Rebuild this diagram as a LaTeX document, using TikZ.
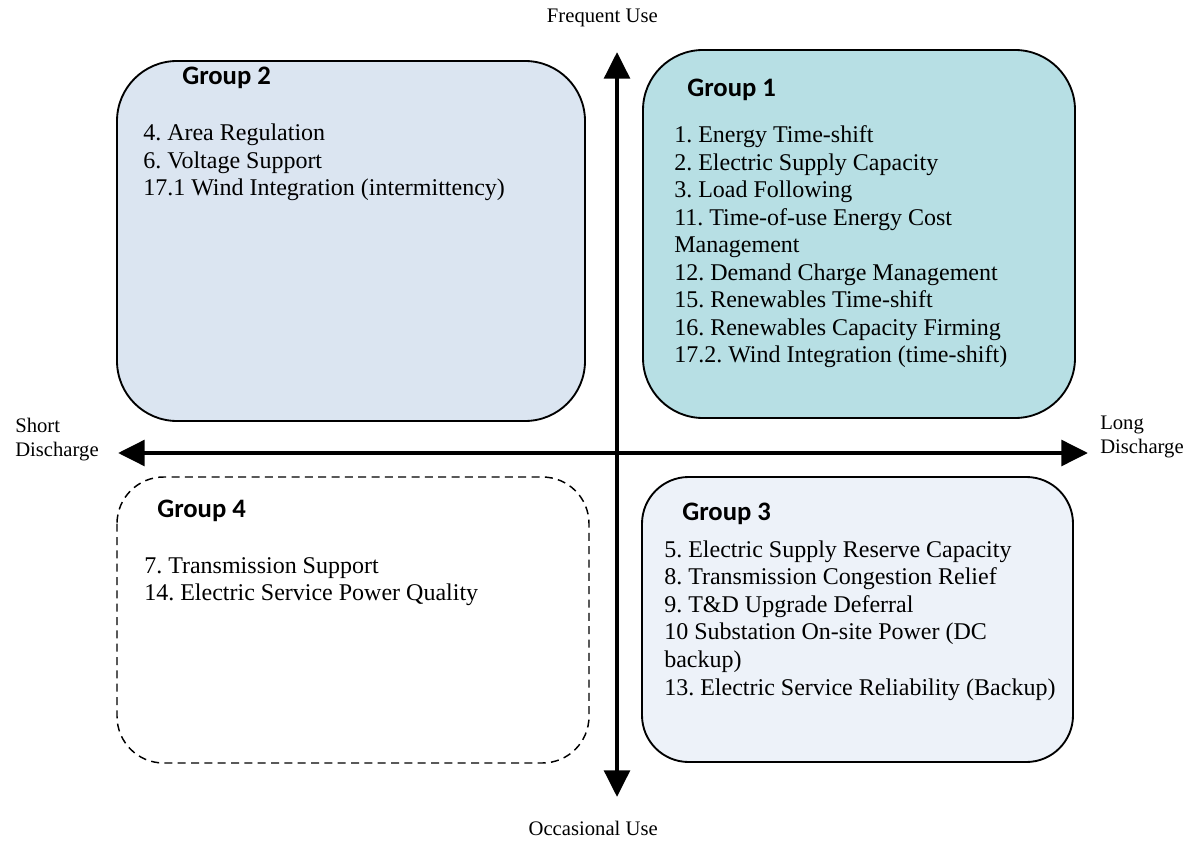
\documentclass[tikz,border=0pt]{standalone}
\usepackage{fontspec}
\setmainfont{Liberation Serif}
\newfontfamily\grpfont{Carlito}
\usetikzlibrary{arrows.meta}
\frenchspacing

\definecolor{grpone}{HTML}{B7DFE4}
\definecolor{grptwo}{HTML}{DBE5F1}
\definecolor{grpthree}{HTML}{EDF2F9}

\tikzset{
  grptitle/.style={anchor=base west, inner sep=0pt, font=\grpfont\bfseries\fontsize{20}{24}\selectfont},
  item/.style={anchor=base west, inner sep=0pt, font=\fontsize{18}{21}\selectfont},
  axislabel/.style={inner sep=0pt, align=left, font=\fontsize{15.5}{18}\selectfont},
  axis/.style={line width=3.6pt, {Triangle[length=20pt,width=19pt]}-{Triangle[length=20pt,width=19pt]}},
  grpbox/.style={line width=1.4pt, rounded corners=45pt},
}

\begin{document}
\begin{tikzpicture}[x=0.75pt, y=-0.75pt]
  \useasboundingbox (0,0) rectangle (1191,841);

  % quadrant boxes
  \draw[grpbox, fill=grptwo] (117,61) rectangle (585,421);
  \draw[grpbox, fill=grpone] (643,50) rectangle (1075,418);
  \draw[grpbox, fill=grpthree, rounded corners=35pt] (642,477) rectangle (1073,762);
  \draw[grpbox, dashed, dash pattern=on 6pt off 4pt, line width=1.1pt, rounded corners=35pt] (117,477) rectangle (589,763);

  % axes
  \coordinate (N) at (617,52);
  \coordinate (S) at (617,797);
  \coordinate (W) at (118,453);
  \coordinate (E) at (1088,453);
  \draw[axis] (W) -- (E);
  \draw[axis] (S) -- (N);

  \node[axislabel, anchor=base east] (freq) at (658,23) {Frequent Use};
  \node[axislabel, anchor=base east] (occ) at (658,835) {Occasional Use};
  \node[axislabel, anchor=west] (short) at (15,440) {Short\\Discharge};
  \node[axislabel, anchor=west] (long) at (1100,437) {Long\\Discharge};

  % Group 2
  \node[grptitle] (g2) at (182,85) {Group 2};
  \foreach \t [count=\i] in {4. Area Regulation, 6. Voltage Support,
      17.1 Wind Integration (intermittency)}
    \node[item] (g2l\i) at (143,{140.7+27.5*(\i-1)}) {\t};

  % Group 1
  \node[grptitle] (g1) at (687,97) {Group 1};
  \foreach \t [count=\i] in {1. Energy Time-shift, 2. Electric Supply Capacity,
      3. Load Following, 11. Time-of-use Energy Cost, Management,
      12. Demand Charge Management, 15. Renewables Time-shift,
      16. Renewables Capacity Firming, 17.2. Wind Integration (time-shift)}
    \node[item] (g1l\i) at (674,{143+27.5*(\i-1)}) {\t};

  % Group 3
  \node[grptitle] (g3) at (682,520) {Group 3};
  \foreach \t [count=\i] in {5. Electric Supply Reserve Capacity,
      8. Transmission Congestion Relief, 9. T\&D Upgrade Deferral,
      10 Substation On-site Power (DC, backup),
      13. Electric Service Reliability (Backup)}
    \node[item] (g3l\i) at (664,{557+27.6*(\i-1)}) {\t};

  % Group 4
  \node[grptitle] (g4) at (157,517) {Group 4};
  \foreach \t [count=\i] in {7. Transmission Support, 14. Electric Service Power Quality}
    \node[item] (g4l\i) at (144,{573+27.5*(\i-1)}) {\t};
\end{tikzpicture}
\end{document}
